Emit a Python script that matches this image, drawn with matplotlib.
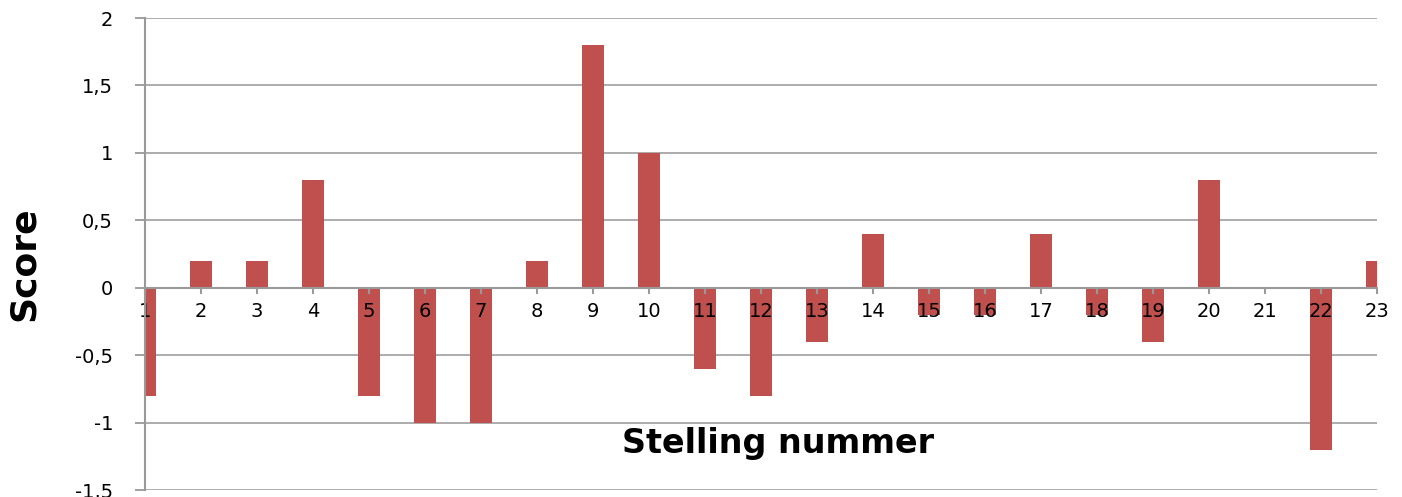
import matplotlib
matplotlib.use("Agg")
import matplotlib.pyplot as plt

# data
stellingen = list(range(1, 24))
scores = [-0.8, 0.2, 0.2, 0.8, -0.8, -1.0, -1.0, 0.2, 1.8, 1.0, -0.6, -0.8,
          -0.4, 0.4, -0.2, -0.2, 0.4, -0.2, -0.4, 0.8, 0.0, -1.2, 0.2]
y_ticks = [-1.5, -1, -0.5, 0, 0.5, 1, 1.5, 2]
y_labels = ["-1,5", "-1", "-0,5", "0", "0,5", "1", "1,5", "2"]

bar_color = "#C0504D"
line_gray = "#999999"

fig = plt.figure(figsize=(14.02, 4.97), dpi=100)
ax = fig.add_axes([145 / 1402, 1 - 490 / 497, 1232 / 1402, 472 / 497])

# gridlines under the bars, drawn by hand so the axis stays above the bars
for yv in y_ticks:
    if yv != 0:
        ax.axhline(yv, color="#a6a6a6", lw=1.3, zorder=0.5)

ax.bar(stellingen, scores, width=0.4, color=bar_color, zorder=1)

ax.set_xlim(1, 23)
ax.set_ylim(-1.5, 2)

for side in ("top", "right"):
    ax.spines[side].set_visible(False)
ax.spines["bottom"].set_position(("data", 0))
ax.spines["bottom"].set_color(line_gray)
ax.spines["bottom"].set_linewidth(1.5)
ax.spines["left"].set_color(line_gray)
ax.spines["left"].set_linewidth(1.5)

ax.set_xticks(stellingen)
ax.set_xticklabels([str(s) for s in stellingen])
ax.set_yticks(y_ticks)
ax.set_yticklabels(y_labels)

ax.tick_params(axis="x", direction="out", length=4, width=1.5, color=line_gray,
               pad=6, labelsize=14)
ax.tick_params(axis="y", direction="out", length=7, width=1.3, color=line_gray,
               pad=16, labelsize=14)

fig.text(778 / 1402, 1 - 443 / 497, "Stelling nummer", fontsize=24,
         fontweight="bold", ha="center", va="center")
fig.text(24 / 1402, 1 - 264 / 497, "Score", fontsize=26, fontweight="bold",
         rotation=90, ha="center", va="center")

fig.savefig("out.png", dpi=100)
